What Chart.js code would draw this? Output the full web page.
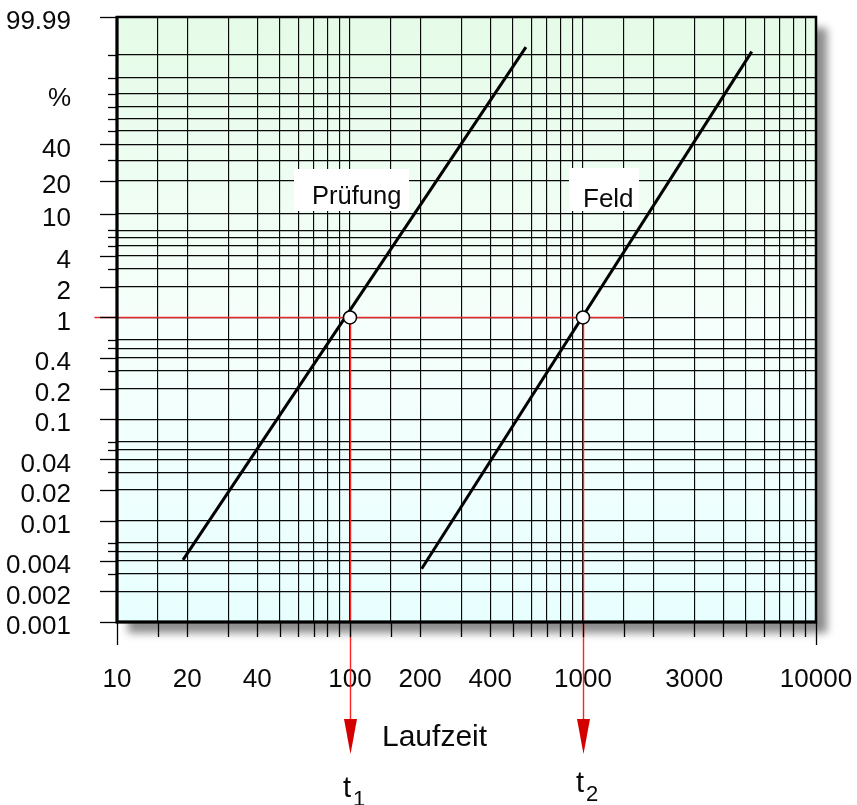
<!DOCTYPE html>
<html><head><meta charset="utf-8">
<script src="https://cdn.jsdelivr.net/npm/chart.js@4/dist/chart.umd.min.js"></script>
<style>html,body{margin:0;padding:0;background:#fff;} canvas{display:block;}</style>
</head><body>
<canvas id="c" width="857" height="805"></canvas>
<script>
// ---------- data ----------
const xGridValues = [10,15,20,30,40,50,60,70,80,90,100,150,200,300,400,500,600,700,800,900,1000,1500,2000,3000,4000,5000,6000,7000,8000,9000,10000];
const xTickLabels = [10,20,40,100,200,400,1000,3000,10000];
const yGridValues = [0.001,0.002,0.003,0.004,0.005,0.006,0.01,0.02,0.03,0.04,0.05,0.06,0.1,0.2,0.3,0.4,0.5,0.6,1,2,3,4,5,6,7,10,20,30,40,50,60,70,80,90,98,99.99];
const yTickLabels = [0.001,0.002,0.004,0.01,0.02,0.04,0.1,0.2,0.4,1,2,4,10,20,40,99.99];
const pruefungX = [19.2, 569];
const pruefungY = [0.0041, 99.04];
const feldX = [203, 5300];
const feldY = [0.00335, 98.5];
const markX = [100, 1000];
const markY = [1, 1];
const refLineX = [8, 1500];
const refLineY = [1, 1];
const markNames = ['1', '2'];
const seriesNames = ['Prüfung', 'Feld'];
const xTitle = 'Laufzeit';
const yUnit = '%';

// ---------- Weibull probability scale ----------
class WeibullScale extends Chart.LinearScale {
  _tf(v){ const p = Math.min(Math.max(v/100, 1e-12), 1-1e-12); return Math.log(-Math.log(1-p)); }
  getPixelForValue(value){
    const a = this._tf(this.min), b = this._tf(this.max);
    return this.getPixelForDecimal((this._tf(value)-a)/(b-a));
  }
  getValueForPixel(pixel){
    const a = this._tf(this.min), b = this._tf(this.max);
    const t = a + this.getDecimalForPixel(pixel)*(b-a);
    return 100*(1-Math.exp(-Math.exp(t)));
  }
}
WeibullScale.id = 'weibull';
WeibullScale.defaults = Chart.LinearScale.defaults;
Chart.register(WeibullScale);

const FONT = '"Liberation Sans", Arial, sans-serif';
const pts = (xs, ys) => xs.map((x,i)=>({x, y: ys[i]}));
const noPad = s => { s.paddingTop = 0; s.paddingBottom = 0; s.paddingLeft = 0; s.paddingRight = 0; };

const deco = {
  id: 'deco',
  beforeDraw(chart){
    const {ctx, chartArea:a} = chart;
    ctx.save();
    ctx.shadowColor = 'rgba(0,0,0,0.45)'; ctx.shadowBlur = 8;
    ctx.shadowOffsetX = 11; ctx.shadowOffsetY = 11;
    ctx.fillStyle = '#fff'; ctx.fillRect(a.left, a.top, a.width, a.height);
    ctx.restore();
    const g = ctx.createLinearGradient(0, a.top, 0, a.bottom);
    g.addColorStop(0, '#e5fbe7'); g.addColorStop(0.5, '#f6fffb'); g.addColorStop(1, '#e8ffff');
    ctx.save(); ctx.fillStyle = g; ctx.fillRect(a.left, a.top, a.width, a.height); ctx.restore();
  },
  beforeDatasetsDraw(chart){
    const {ctx, scales:{x, y}} = chart;
    ctx.save();
    const boxes = [
      {t: seriesNames[0], bx: 294, by: 169, bw: 115, bh: 42, tx: 312, ty: 204, fs: 25.5},
      {t: seriesNames[1], bx: 569, by: 168, bw: 70, bh: 43, tx: 583, ty: 207, fs: 26}
    ];
    boxes.forEach(b => {
      ctx.fillStyle = '#fff'; ctx.fillRect(b.bx, b.by, b.bw, b.bh);
      ctx.fillStyle = '#0a0a0a'; ctx.font = b.fs + 'px ' + FONT;
      ctx.textAlign = 'left'; ctx.textBaseline = 'alphabetic';
      ctx.fillText(b.t, b.tx, b.ty);
    });
    markX.forEach((v, i) => {
      const px = Math.round(x.getPixelForValue(v)) + 0.5;
      const py = y.getPixelForValue(markY[i]);
      ctx.strokeStyle = '#ff2424'; ctx.lineWidth = 1.4;
      ctx.beginPath(); ctx.moveTo(px, py); ctx.lineTo(px, 722); ctx.stroke();
      ctx.fillStyle = '#d40000';
      ctx.beginPath(); ctx.moveTo(px-6.5, 719); ctx.lineTo(px+6.5, 719); ctx.lineTo(px, 754); ctx.closePath(); ctx.fill();
    });
    ctx.restore();
  },
  afterDraw(chart){
    const {ctx, chartArea:a, scales:{x, y}} = chart;
    ctx.save();
    ctx.strokeStyle = '#000'; ctx.lineWidth = 1.3;
    yGridValues.forEach(v => {
      const py = Math.round(y.getPixelForValue(v)) + 0.5;
      const len = yTickLabels.includes(v) ? 17 : 9;
      ctx.beginPath(); ctx.moveTo(a.left - len, py); ctx.lineTo(a.left, py); ctx.stroke();
    });
    xGridValues.forEach((v, i) => {
      const px = Math.round(x.getPixelForValue(v)) + 0.5;
      const len = (i === 0 || i === xGridValues.length-1) ? 23 : 15;
      ctx.beginPath(); ctx.moveTo(px, a.bottom); ctx.lineTo(px, a.bottom + len); ctx.stroke();
    });
    ctx.lineWidth = 2.5; ctx.strokeRect(a.left, a.top, a.width, a.height);
    ctx.lineWidth = 3;
    ctx.beginPath(); ctx.moveTo(a.left, a.top - 1); ctx.lineTo(a.left, a.bottom); ctx.lineTo(a.right + 1, a.bottom); ctx.stroke();
    ctx.fillStyle = '#0a0a0a';
    ctx.font = '26px ' + FONT; ctx.textAlign = 'right'; ctx.textBaseline = 'middle';
    ctx.fillText(yUnit, 71, 99);
    ctx.font = '30px ' + FONT; ctx.textAlign = 'left'; ctx.textBaseline = 'alphabetic';
    ctx.fillText(xTitle, 382, 746);
    const tBase = [797, 792];
    markX.forEach((v, i) => {
      const px = x.getPixelForValue(v);
      ctx.font = '29px ' + FONT; ctx.textAlign = 'left';
      ctx.fillText('t', px - 7, tBase[i]);
      ctx.font = '22px ' + FONT;
      ctx.fillText(markNames[i], px + 3, tBase[i] + 9);
    });
    ctx.restore();
  }
};

new Chart(document.getElementById('c').getContext('2d'), {
  type: 'line',
  data: {
    datasets: [
      {data: pts(markX, markY), showLine: false, pointRadius: 6.5, pointBackgroundColor: '#fff', pointBorderColor: '#000', pointBorderWidth: 1.5},
      {data: pts(pruefungX, pruefungY), borderColor: '#000', borderWidth: 3, pointRadius: 0},
      {data: pts(feldX, feldY), borderColor: '#000', borderWidth: 3, pointRadius: 0},
      {data: pts(refLineX, refLineY), borderColor: '#e62a2a', borderWidth: 1.5, pointRadius: 0, clip: false}
    ]
  },
  options: {
    responsive: false, animation: false, devicePixelRatio: 1,
    layout: {padding: {left: 0, right: 41, top: 17, bottom: 0}},
    plugins: {legend: {display: false}, tooltip: {enabled: false}},
    scales: {
      x: {
        type: 'logarithmic', min: 10, max: 10000, position: 'bottom',
        afterBuildTicks: s => { s.ticks = xGridValues.map(v => ({value: v})); },
        afterFit: s => { s.height = 183; noPad(s); },
        grid: {color: '#080808', lineWidth: 1.15, drawTicks: false},
        border: {display: false},
        ticks: {autoSkip: false, maxRotation: 0, minRotation: 0, padding: 45, color: '#0a0a0a',
          font: {family: FONT, size: 26, lineHeight: 1},
          callback: v => xTickLabels.includes(v) ? String(v) : ''}
      },
      y: {
        type: 'weibull', min: 0.001, max: 99.99, position: 'left',
        afterBuildTicks: s => { s.ticks = yGridValues.map(v => ({value: v})); },
        afterFit: s => { s.width = 117; noPad(s); },
        grid: {color: '#080808', lineWidth: 1.15, drawTicks: false},
        border: {display: false},
        ticks: {autoSkip: false, padding: 46, labelOffset: 5, color: '#0a0a0a',
          font: {family: FONT, size: 26, lineHeight: 1},
          callback: v => yTickLabels.includes(v) ? String(v) : ''}
      }
    }
  },
  plugins: [deco]
});
</script>
</body></html>
